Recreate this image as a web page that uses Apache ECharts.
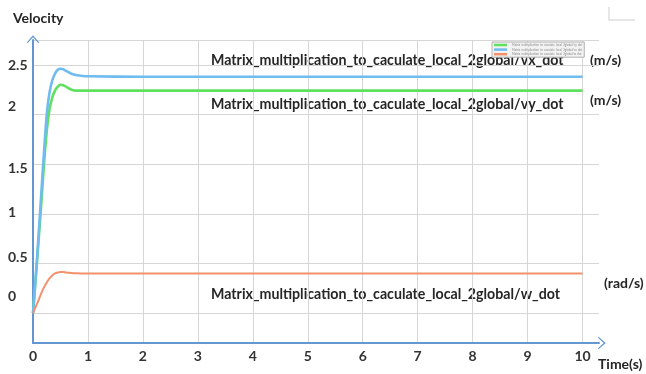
<!DOCTYPE html>
<html>
<head>
<meta charset="utf-8">
<script src="https://cdn.jsdelivr.net/npm/echarts@6/dist/echarts.min.js"></script>
<style>
html,body{margin:0;padding:0;background:#fff;}
#chart{width:646px;height:374px;}
</style>
</head>
<body>
<div id="chart"></div>
<script>
// ---- data ----
var seriesNames = [
  'Matrix_multiplication_to_caculate_local_2global/vy_dot',
  'Matrix_multiplication_to_caculate_local_2global/vx_dot',
  'Matrix_multiplication_to_caculate_local_2global/w_dot'
];
var times = [0, 0.05, 0.1, 0.15, 0.2, 0.25, 0.3, 0.35, 0.4, 0.45, 0.5, 0.55, 0.6, 0.7, 0.8, 0.9, 1, 2, 3, 4, 5, 6, 7, 8, 9, 10];
var vyDot = [0, 0.35, 0.72, 1.1, 1.5, 1.83, 2.05, 2.17, 2.24, 2.28, 2.30, 2.295, 2.28, 2.25, 2.24, 2.24, 2.24, 2.24, 2.24, 2.24, 2.24, 2.24, 2.24, 2.24, 2.24, 2.24];
var vxDot = [0, 0.37, 0.77, 1.2, 1.62, 2.0, 2.22, 2.34, 2.41, 2.45, 2.46, 2.455, 2.44, 2.41, 2.395, 2.388, 2.385, 2.38, 2.38, 2.38, 2.38, 2.38, 2.38, 2.38, 2.38, 2.38];
var wDot  = [0, 0.065, 0.13, 0.2, 0.26, 0.31, 0.35, 0.38, 0.40, 0.41, 0.415, 0.414, 0.41, 0.405, 0.402, 0.40, 0.40, 0.40, 0.40, 0.40, 0.40, 0.40, 0.40, 0.40, 0.40, 0.40];
var xTicks = [0, 1, 2, 3, 4, 5, 6, 7, 8, 9, 10];
var yTicks = [0, 0.5, 1, 1.5, 2, 2.5];
var yTop = 2.75;
var annotations = [
  'Matrix_multiplication_to_caculate_local_2global/vx_dot',
  'Matrix_multiplication_to_caculate_local_2global/vy_dot',
  'Matrix_multiplication_to_caculate_local_2global/w_dot'
];
var units = ['(m/s)', '(m/s)', '(rad/s)'];

// ---- styles ----
var FONT = 'Lato, "Open Sans", sans-serif';
var AXIS_COLOR = '#6497d2';
var TEXT = '#262626';
var colors = ['#5fe05f', '#70bbef', '#f2916c'];
// vertical label shifts (px, positive = down) to mimic the reference placement
var yLabelShift = {'0': -17, '0.5': -6, '1': -1, '1.5': 4, '2': -8, '2.5': 1};
var rich = {};
Object.keys(yLabelShift).forEach(function (k, i) {
  var s = yLabelShift[k];
  rich['s' + i] = {
    fontFamily: FONT, fontWeight: 'bold', fontSize: 14, color: '#333',
    padding: s < 0 ? [0, 0, -2 * s, 0] : [2 * s, 0, 0, 0]
  };
});
var shiftKeys = Object.keys(yLabelShift);

function pairs(xs, ys) { return xs.map(function (x, i) { return [x, ys[i]]; }); }

var chart = echarts.init(document.getElementById('chart'), null, {renderer: 'canvas'});
var arrowPath = 'path://M0,7 L6,0 L12,7 L10.6,7 L6,1.9 L1.4,7 Z';

chart.setOption({
  backgroundColor: '#ffffff',
  animation: false,
  grid: {left: 33, right: 47, top: 40, bottom: 31, containLabel: false},
  legend: {
    left: 492, top: 42, orient: 'vertical',
    itemWidth: 13, itemHeight: 2.5, itemGap: 1.6,
    padding: [1.5, 2, 1.5, 2],
    backgroundColor: '#f2f2f2', borderColor: '#b0b0b0', borderWidth: 1,
    icon: 'rect',
    textStyle: {fontSize: 2.9, color: '#8a8a8a', fontFamily: FONT},
    data: seriesNames
  },
  xAxis: {
    type: 'value', min: 0, max: 10.3,
    axisLine: {show: true, onZero: false, symbol: ['none', arrowPath], symbolSize: [13, 8], symbolOffset: [0, 3],
      lineStyle: {color: AXIS_COLOR, width: 2}},
    axisTick: {show: false, customValues: xTicks},
    axisLabel: {customValues: xTicks, margin: 6, fontFamily: FONT, fontWeight: 'bold', fontSize: 14, color: '#333',
      formatter: function (v) { return String(v); }},
    splitLine: {show: true, lineStyle: {color: '#d6d6d6', width: 1}}
  },
  yAxis: {
    type: 'value', min: -0.3, max: yTop,
    axisLine: {show: true, onZero: false, symbol: ['none', arrowPath], symbolSize: [13, 8], symbolOffset: [0, 1],
      lineStyle: {color: AXIS_COLOR, width: 2}},
    axisTick: {show: false, customValues: yTicks.concat([yTop])},
    axisLabel: {customValues: yTicks, align: 'left', margin: 25, rich: rich,
      fontFamily: FONT, fontWeight: 'bold', fontSize: 14, color: '#333',
      formatter: function (v) {
        var key = String(v);
        var idx = shiftKeys.indexOf(key);
        return idx >= 0 ? '{s' + idx + '|' + key + '}' : key;
      }},
    splitLine: {show: true, lineStyle: {color: '#d6d6d6', width: 1}}
  },
  series: [
    {name: seriesNames[0], type: 'line', data: pairs(times, vyDot), showSymbol: false, smooth: 0.25,
      lineStyle: {color: colors[0], width: 2.6}, itemStyle: {color: colors[0]}},
    {name: seriesNames[1], type: 'line', data: pairs(times, vxDot), showSymbol: false, smooth: 0.25,
      lineStyle: {color: colors[1], width: 2.6}, itemStyle: {color: colors[1]}},
    {name: seriesNames[2], type: 'line', data: pairs(times, wDot), showSymbol: false, smooth: 0.25,
      lineStyle: {color: colors[2], width: 2}, itemStyle: {color: colors[2]}}
  ],
  graphic: [
    {type: 'text', left: 13, top: 11, style: {text: 'Velocity', font: 'bold 14px ' + FONT, fill: TEXT}},
    {type: 'text', left: 598, top: 357, style: {text: 'Time(s)', font: 'bold 14px ' + FONT, fill: TEXT}},
    {type: 'text', left: 211, top: 53, style: {text: annotations[0], font: 'bold 14.2px ' + FONT, fill: TEXT}},
    {type: 'text', left: 211, top: 97, style: {text: annotations[1], font: 'bold 14.2px ' + FONT, fill: TEXT}},
    {type: 'text', left: 211, top: 287, style: {text: annotations[2], font: 'bold 14.2px ' + FONT, fill: TEXT}},
    {type: 'text', left: 590, top: 53, style: {text: units[0], font: 'bold 14px ' + FONT, fill: TEXT}},
    {type: 'text', left: 590, top: 93, style: {text: units[1], font: 'bold 14px ' + FONT, fill: TEXT}},
    {type: 'text', left: 604, top: 276, style: {text: units[2], font: 'bold 14px ' + FONT, fill: TEXT}},
    {type: 'polyline', shape: {points: [[609, 7], [609, 20], [635, 20]]}, style: {stroke: '#dedede', lineWidth: 1.5, fill: null}}
  ]
});
</script>
</body>
</html>
